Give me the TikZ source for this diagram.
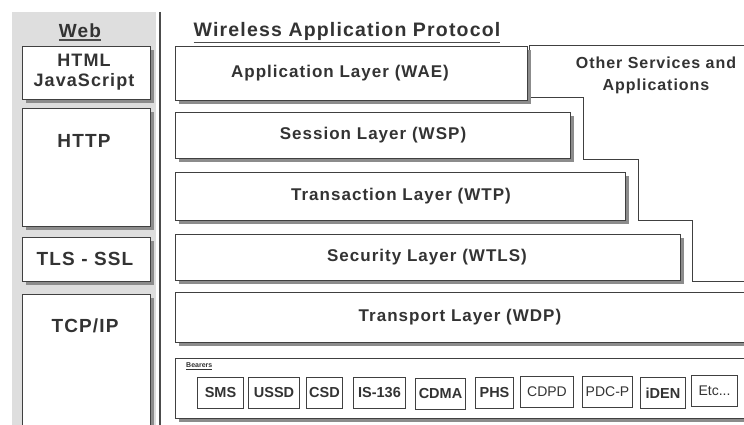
\documentclass[tikz,border=0pt]{standalone}
\usepackage{fontspec}
\setmainfont{Liberation Sans}
\newfontfamily\spaced[LetterSpace=6]{Liberation Sans}
\usetikzlibrary{shadows}
\begin{document}
\begin{tikzpicture}[x=1pt,y=-1pt,
  ink/.style={draw=black!75, line width=1.3pt},
  shade/.style={drop shadow={shadow xshift=3.5pt, shadow yshift=-3.5pt, fill=black!45, opacity=1}},
  box/.style={ink, fill=white, rectangle, inner sep=0pt, anchor=north west, shade},
  lbl/.style={text=black!80, font=\spaced\bfseries\fontsize{17}{20}\selectfont, align=center, inner sep=0pt},
  weblbl/.style={lbl, font=\spaced\bfseries\fontsize{19}{21}\selectfont},
  bearer/.style={draw=black!75, line width=1pt, fill=white, rectangle, inner sep=0pt, anchor=north west,
                 minimum height=31, text=black!80, font=\bfseries\fontsize{14.5}{16}\selectfont},
  bearerlight/.style={bearer, font=\fontsize{14}{16}\selectfont},
]
\useasboundingbox (0,0) rectangle (744,425);
\clip (0,0) rectangle (744,425);
\fill[white] (0,0) rectangle (744,425);

% Web column
\fill[black!13] (12,12) rectangle (156,425);
\coordinate (divtop) at (160,12);
\coordinate (divbot) at (160,425);
\draw[black!70, line width=1.2pt] (divtop) -- (divbot);

\node[weblbl] (web) at (80,31) {Web};
\draw[black!70, line width=1.5pt] ([yshift=-2pt]web.south west) -- ([yshift=-2pt]web.south east);

\node[box, minimum width=128, minimum height=53] (html) at (22,46) {};
\node[weblbl, font=\spaced\bfseries\fontsize{18}{20}\selectfont] (htmlt) at (84,72) {HTML\\JavaScript};
\node[box, minimum width=128, minimum height=118] (http) at (22,108) {};
\node[weblbl] (httpt) at (84,141) {HTTP};
\node[box, minimum width=128, minimum height=44] (tls) at (22,237) {};
\node[weblbl] (tlst) at (85,259) {TLS - SSL};
\node[box, minimum width=128, minimum height=140] (tcp) at (22,294) {};
\node[weblbl] (tcpt) at (85,326) {TCP/IP};

% WAP stack
\node[lbl, font=\spaced\bfseries\fontsize{19.5}{22}\selectfont] (wap) at (347,31) {Wireless Application Protocol};
\draw[black!70, line width=1.5pt] ([yshift=-2pt]wap.south west) -- ([yshift=-2pt]wap.south east);

\draw[draw=black!75, line width=1pt] (750,46) -- (529,46) -- (529,98) -- (583,98) -- (583,159)
  -- (638,159) -- (638,220) -- (692,220) -- (692,281) -- (750,281);
\node[lbl, font=\spaced\bfseries\fontsize{16}{22}\selectfont] (other) at (656,75) {Other Services and\\Applications};

\node[box, minimum width=352, minimum height=54] (wae) at (175,46) {};
\node[lbl] (waet) at (340,73) {Application Layer (WAE)};
\node[box, minimum width=395, minimum height=46] (wsp) at (175,112) {};
\node[lbl] (wspt) at (373,135) {Session Layer (WSP)};
\node[box, minimum width=450, minimum height=48] (wtp) at (175,172) {};
\node[lbl] (wtpt) at (401,196) {Transaction Layer (WTP)};
\node[box, minimum width=505, minimum height=46] (wtls) at (175,234) {};
\node[lbl] (wtlst) at (427,257) {Security Layer (WTLS)};
\node[box, minimum width=575, minimum height=50] (wdp) at (175,292) {};
\node[lbl] (wdpt) at (460,317) {Transport Layer (WDP)};

% Bearers
\node[box, minimum width=575, minimum height=60] (bear) at (175,358) {};
\node[text=black!80, font=\bfseries\fontsize{7}{8}\selectfont, inner sep=0pt, anchor=west] (beart) at (186,366) {\underline{Bearers}};

\node[bearer, minimum width=46] (sms)  at (197,377) {SMS};
\node[bearer, minimum width=51] (ussd) at (248,377) {USSD};
\node[bearer, minimum width=36] (csd)  at (306,377) {CSD};
\node[bearer, minimum width=52] (is)   at (353,377) {IS-136};
\node[bearer, minimum width=50] (cdma) at (415,378) {CDMA};
\node[bearer, minimum width=38] (phs)  at (475,377) {PHS};
\node[bearerlight, minimum width=53] (cdpd) at (520,376) {CDPD};
\node[bearerlight, minimum width=50] (pdc)  at (582,376) {PDC-P};
\node[bearer, minimum width=45] (iden) at (640,377) {iDEN};
\node[bearerlight, minimum width=46] (etc)  at (691,375) {Etc...};
\end{tikzpicture}
\end{document}
